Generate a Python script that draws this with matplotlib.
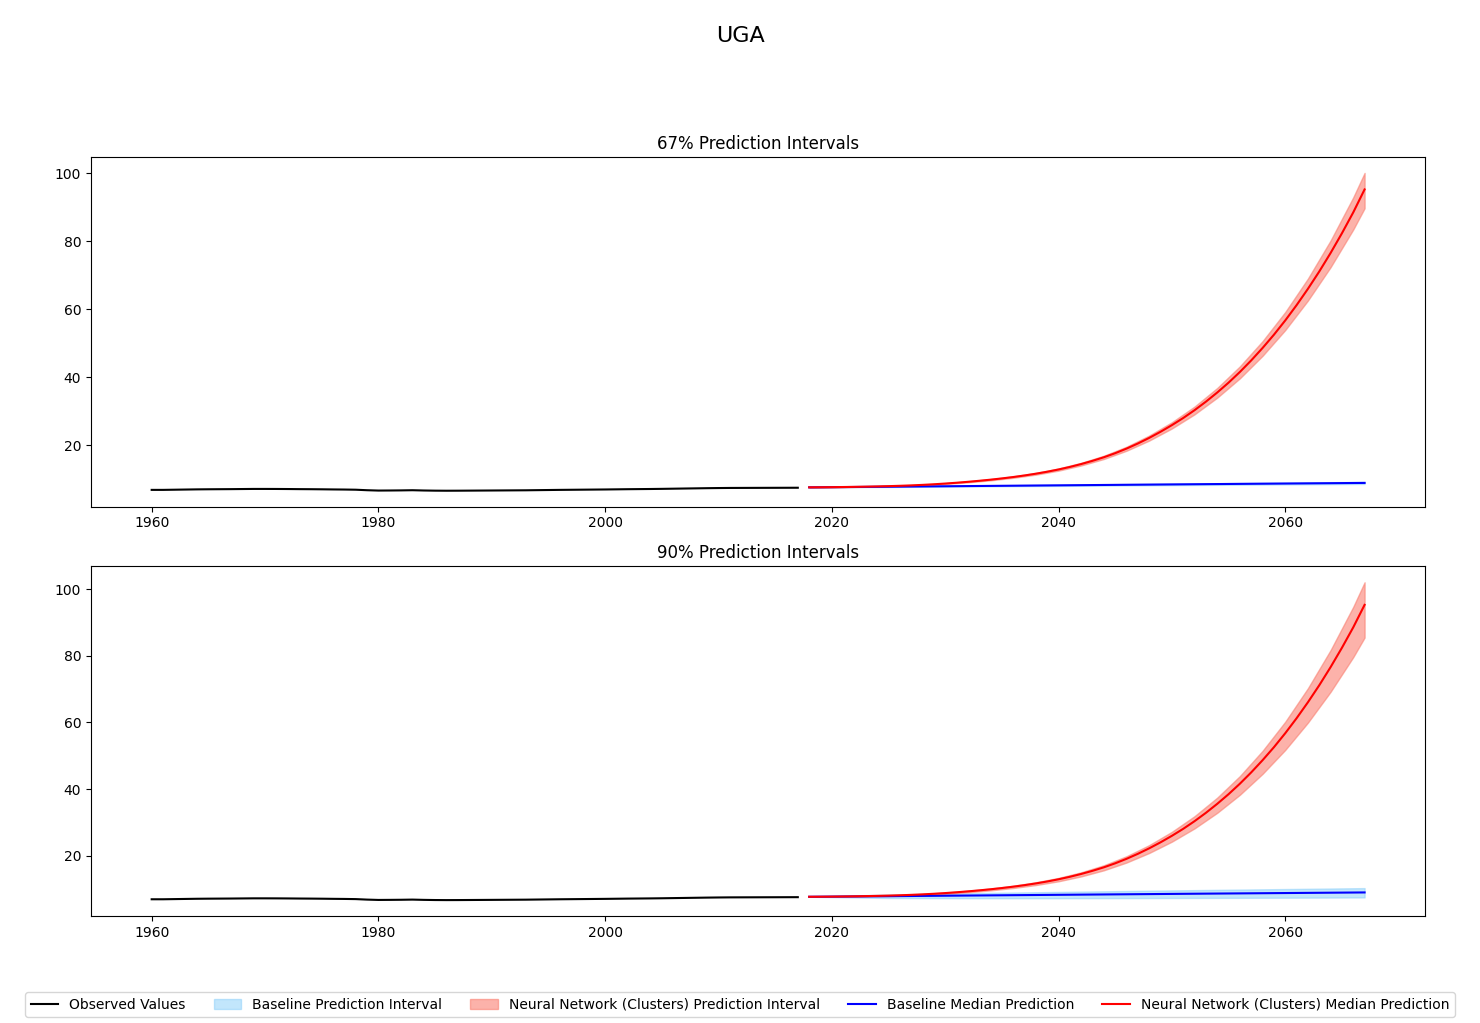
import matplotlib
matplotlib.use("Agg")
import matplotlib.pyplot as plt

# observed series, 1960-2017
obs_years = list(range(1960, 2018))
obs_values = [
    6.90, 6.90, 6.95, 7.00, 7.05, 7.08, 7.10, 7.12, 7.15, 7.18,
    7.18, 7.17, 7.15, 7.12, 7.10, 7.07, 7.03, 7.00, 6.95, 6.80,
    6.70, 6.72, 6.75, 6.80, 6.72, 6.67, 6.65, 6.66, 6.68, 6.70,
    6.72, 6.74, 6.76, 6.78, 6.82, 6.86, 6.90, 6.93, 6.96, 6.99,
    7.02, 7.06, 7.10, 7.13, 7.16, 7.20, 7.25, 7.30, 7.35, 7.40,
    7.44, 7.47, 7.48, 7.49, 7.50, 7.51, 7.52, 7.53,
]

# neural network (clusters) median forecast, 2018-2067
nn_years = list(range(2018, 2068))
nn_median = [
    7.65, 7.67, 7.70, 7.74, 7.79, 7.85, 7.92, 8.00, 8.10, 8.22,
    8.37, 8.55, 8.76, 9.00, 9.27, 9.57, 9.90, 10.27, 10.68, 11.14,
    11.66, 12.24, 12.90, 13.65, 14.50, 15.45, 16.50, 17.70, 19.05, 20.55,
    22.20, 24.00, 25.95, 28.05, 30.35, 32.85, 35.55, 38.45, 41.60, 45.00,
    48.65, 52.55, 56.75, 61.25, 66.05, 71.15, 76.60, 82.40, 88.55, 95.30,
]

# neural network interval bounds
band_years = [2018, 2020, 2022, 2024, 2026, 2028, 2030, 2032, 2034, 2036,
              2038, 2040, 2042, 2044, 2046, 2048, 2050, 2052, 2054, 2056,
              2058, 2060, 2062, 2064, 2066, 2067]
nn_lo67 = [7.65, 7.68, 7.75, 7.86, 8.02, 8.27, 8.64, 9.12, 9.71, 10.45,
           11.38, 12.56, 14.09, 15.99, 18.42, 21.41, 24.97, 29.13, 34.04, 39.73,
           46.35, 53.93, 62.61, 72.43, 83.52, 89.77]
nn_hi67 = [7.65, 7.72, 7.82, 7.97, 8.17, 8.46, 8.87, 9.41, 10.07, 10.88,
           11.90, 13.20, 14.86, 16.95, 19.60, 22.89, 26.81, 31.42, 36.88, 43.25,
           50.67, 59.23, 69.07, 80.27, 92.98, 100.16]
nn_lo90 = [7.65, 7.67, 7.72, 7.82, 7.96, 8.19, 8.54, 9.00, 9.57, 10.28,
           11.17, 12.30, 13.77, 15.60, 17.93, 20.80, 24.20, 28.18, 32.86, 38.28,
           44.56, 51.74, 59.94, 69.19, 79.61, 85.48]
nn_hi90 = [7.65, 7.72, 7.84, 7.99, 8.19, 8.49, 8.91, 9.46, 10.13, 10.96,
           12.00, 13.31, 15.00, 17.12, 19.82, 23.16, 27.15, 31.85, 37.41, 43.89,
           51.47, 60.20, 70.26, 81.71, 94.71, 102.07]

# baseline forecast
base_years = [2018, 2025, 2032, 2039, 2046, 2053, 2060, 2067]
base_median = [7.65, 7.83, 8.02, 8.21, 8.40, 8.59, 8.77, 8.95]
base_lo67 = [7.65, 7.75, 7.90, 8.05, 8.20, 8.36, 8.50, 8.65]
base_hi67 = [7.65, 7.91, 8.14, 8.37, 8.61, 8.82, 9.04, 9.25]
base_lo90 = [7.65, 7.28, 7.22, 7.21, 7.25, 7.31, 7.37, 7.45]
base_hi90 = [7.65, 8.33, 8.72, 9.06, 9.38, 9.69, 9.97, 10.25]

panels = [
    ("67% Prediction Intervals", base_lo67, base_hi67, nn_lo67, nn_hi67),
    ("90% Prediction Intervals", base_lo90, base_hi90, nn_lo90, nn_hi90),
]

fig, axes = plt.subplots(2, 1, figsize=(14.8, 10.23), dpi=100)
fig.subplots_adjust(left=0.0615, right=0.963, top=0.8465, bottom=0.1046, hspace=0.171)

for ax, (title, blo, bhi, nlo, nhi) in zip(axes, panels):
    h_obs, = ax.plot(obs_years, obs_values, color="black", lw=1.5, label="Observed Values")
    h_bint = ax.fill_between(base_years, blo, bhi, color="lightskyblue", alpha=0.5,
                             label="Baseline Prediction Interval")
    h_nint = ax.fill_between(band_years, nlo, nhi, color="salmon", alpha=0.6,
                             label="Neural Network (Clusters) Prediction Interval")
    h_bmed, = ax.plot(base_years, base_median, color="blue", lw=1.5,
                      label="Baseline Median Prediction")
    h_nmed, = ax.plot(nn_years, nn_median, color="red", lw=1.5,
                      label="Neural Network (Clusters) Median Prediction")
    ax.set_title(title, fontsize=12)

fig.suptitle("UGA", fontsize=16, y=0.975)
fig.legend(handles=[h_obs, h_bint, h_nint, h_bmed, h_nmed], loc="lower center",
           bbox_to_anchor=(0.5, -0.001), ncol=5, fontsize=10)

fig.savefig("out.png", dpi=100)
